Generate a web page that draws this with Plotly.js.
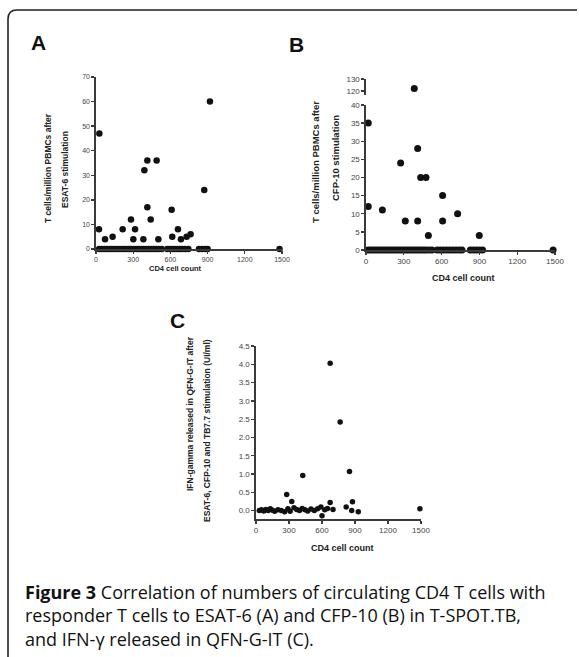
<!DOCTYPE html>
<html>
<head>
<meta charset="utf-8">
<script src="https://cdn.plot.ly/plotly-3.0.1.min.js"></script>
<style>html,body{margin:0;padding:0;background:#fff;}#chart{width:579px;height:657px;}</style>
</head>
<body>
<div id="chart"></div>
<script>
// ---- Data ----
// Panel A: ESAT-6 responders (T cells/million PBMCs) vs CD4 count
const aX = [24, 27, 73, 134, 215, 282, 315, 301, 390, 382, 414, 414, 441, 489, 503, 610, 615, 661, 685, 731, 763, 873, 919];
const aY = [8, 47, 4, 5, 8, 12, 8, 4, 32, 4, 36, 17, 12, 36, 4, 16, 5, 8, 4, 5, 6, 24, 60];
const aZeroX = [25, 45, 65, 85, 105, 125, 145, 165, 185, 205, 225, 245, 265, 285, 305, 325, 345, 365, 385, 405, 425, 445, 465, 485, 505, 530, 575, 595, 615, 635, 655, 675, 695, 720, 745, 830, 855, 880, 900, 1480];
const aZeroY = aZeroX.map(() => 0);

// Panel B: CFP-10 responders vs CD4 count (broken axis)
const bX = [18, 18, 130, 275, 312, 410, 410, 434, 476, 495, 608, 608, 727, 899];
const bY = [35, 12, 11, 24, 8, 28, 8, 20, 20, 4, 15, 8, 10, 4];
const bUpperX = [383];
const bUpperY = [122];
const bZeroX = [16, 36, 56, 76, 96, 116, 136, 156, 176, 196, 216, 236, 256, 276, 296, 316, 336, 356, 376, 396, 416, 436, 456, 476, 500, 524, 565, 590, 615, 640, 665, 690, 715, 740, 762, 828, 852, 876, 900, 925, 1485];
const bZeroY = bZeroX.map(() => 0);

// Panel C: IFN-gamma (IU/ml) vs CD4 count
const cX = [674, 765, 425, 850, 279, 325, 877, 674, 820, 1490, 30, 50, 70, 90, 110, 130, 150, 170, 200, 230, 260, 290, 310, 345, 370, 395, 420, 445, 470, 500, 530, 560, 590, 600, 625, 650, 700, 870, 930];
const cY = [4.03, 2.42, 0.96, 1.07, 0.44, 0.25, 0.24, 0.22, 0.1, 0.05, 0.0, 0.02, -0.01, 0.03, 0.0, 0.05, 0.01, -0.02, 0.02, 0.0, -0.03, 0.05, -0.02, 0.08, 0.03, 0.0, 0.06, 0.02, -0.01, 0.04, 0.0, 0.05, 0.1, -0.14, 0.02, 0.06, 0.03, 0.0, -0.03];

const xTicks = [0, 300, 600, 900, 1200, 1500];
const aYTicks = [0, 10, 20, 30, 40, 50, 60, 70];
const bYTicks = [0, 5, 10, 15, 20, 25, 30, 35, 40];
const bUpperTicks = [120, 130];
const cYTicks = [0, 0.5, 1, 1.5, 2, 2.5, 3, 3.5, 4, 4.5];

// ---- Layout helpers (pixel -> paper) ----
const W = 579, H = 657;
const px = p => p / W;
const py = p => 1 - p / H;

const dot = (size) => ({color: '#111', size: size, line: {width: 0}});
const traces = [
  {x: aX.concat(aZeroX), y: aY.concat(aZeroY), xaxis: 'x', yaxis: 'y', mode: 'markers', type: 'scatter', marker: dot(6.5), cliponaxis: false},
  {x: bX.concat(bZeroX), y: bY.concat(bZeroY), xaxis: 'x2', yaxis: 'y2', mode: 'markers', type: 'scatter', marker: dot(7), cliponaxis: false},
  {x: bUpperX, y: bUpperY, xaxis: 'x2', yaxis: 'y3', mode: 'markers', type: 'scatter', marker: dot(7), cliponaxis: false},
  {x: cX, y: cY, xaxis: 'x3', yaxis: 'y4', mode: 'markers', type: 'scatter', marker: dot(5.5), cliponaxis: false}
];

const axBase = (fs) => ({
  showline: true, linecolor: '#3a3a3a', linewidth: 1.6,
  ticks: 'outside', ticklen: 3, tickwidth: 1.3, tickcolor: '#3a3a3a',
  showgrid: false, zeroline: false,
  tickfont: {family: 'Liberation Sans, Arial', size: fs, color: '#444'}
});

const layout = {
  width: W, height: H,
  margin: {l: 0, r: 0, t: 0, b: 0},
  paper_bgcolor: '#ffffff', plot_bgcolor: 'rgba(0,0,0,0)',
  showlegend: false,
  xaxis: Object.assign(axBase(7), {domain: [px(96), px(282)], range: [0, 1500], tickvals: xTicks, anchor: 'y'}),
  yaxis: Object.assign(axBase(7), {domain: [py(249), py(77)], range: [0, 70], tickvals: aYTicks, anchor: 'x'}),
  xaxis2: Object.assign(axBase(8), {domain: [px(366), px(555)], range: [0, 1500], tickvals: xTicks, anchor: 'y2'}),
  yaxis2: Object.assign(axBase(8), {domain: [py(250), py(105)], range: [0, 40], tickvals: bYTicks, anchor: 'x2'}),
  yaxis3: Object.assign(axBase(8), {domain: [py(95), py(79)], range: [116.6, 130], tickvals: bUpperTicks, anchor: 'x2'}),
  xaxis3: Object.assign(axBase(8), {domain: [px(256), px(421)], range: [0, 1500], tickvals: xTicks, anchor: 'y4'}),
  yaxis4: Object.assign(axBase(8), {domain: [py(519), py(346)], range: [-0.23, 4.5], tickvals: cYTicks, tickformat: '.1f', anchor: 'x3'}),
  shapes: [
    {type: 'path', xref: 'paper', yref: 'paper',
     path: `M ${px(8)},${py(657)} L ${px(8)},${py(19)} Q ${px(8)},${py(10)} ${px(17)},${py(10)} L ${px(577)},${py(10)}`,
     line: {color: '#222', width: 1.6}}
  ],
  annotations: []
};

const ann = (text, x, y, opts) => Object.assign({text: text, xref: 'paper', yref: 'paper', x: px(x), y: py(y), showarrow: false, xanchor: 'center', yanchor: 'middle'}, opts || {});
const bold = (s) => ({family: 'Liberation Sans, Arial', size: s, color: '#222'});

layout.annotations.push(
  ann('<b>A</b>', 38, 43, {font: {family: 'Liberation Sans, Arial', size: 21, color: '#111'}}),
  ann('<b>B</b>', 296, 44, {font: {family: 'Liberation Sans, Arial', size: 21, color: '#111'}}),
  ann('<b>C</b>', 177, 320, {font: {family: 'Liberation Sans, Arial', size: 21, color: '#111'}}),
  // axis titles
  ann('<b>CD4 cell count</b>', 175, 268, {font: bold(7.5)}),
  ann('<b>T cells/million PBMCs after</b>', 48, 168, {textangle: -90, font: bold(8.5)}),
  ann('<b>ESAT-6 stimulation</b>', 65, 170, {textangle: -90, font: bold(8.5)}),
  ann('<b>CD4 cell count</b>', 463, 278, {font: bold(9)}),
  ann('<b>T cells/million PBMCs after</b>', 315, 162, {textangle: -90, font: bold(9.5)}),
  ann('<b>CFP-10 stimulation</b>', 335, 158, {textangle: -90, font: bold(9.5)}),
  ann('<b>CD4 cell count</b>', 342, 548, {font: bold(9)}),
  ann('<b>IFN-gamma released in QFN-G-IT after</b>', 190, 414, {textangle: -90, font: bold(8.5)}),
  ann('<b>ESAT-6, CFP-10 and TB7.7 stimulation (UI/ml)</b>', 207, 431, {textangle: -90, font: bold(8.5)}),
  // caption
  ann('<b>Figure 3</b> Correlation of numbers of circulating CD4 T cells with<br>responder T cells to ESAT-6 (A) and CFP-10 (B) in T-SPOT.TB,<br>and IFN-γ released in QFN-G-IT (C).',
      23, 615, {xanchor: 'left', align: 'left', font: {family: 'Open Sans', size: 18, color: '#111'}})
);

Plotly.newPlot('chart', traces, layout, {staticPlot: true, displayModeBar: false});
</script>
</body>
</html>
